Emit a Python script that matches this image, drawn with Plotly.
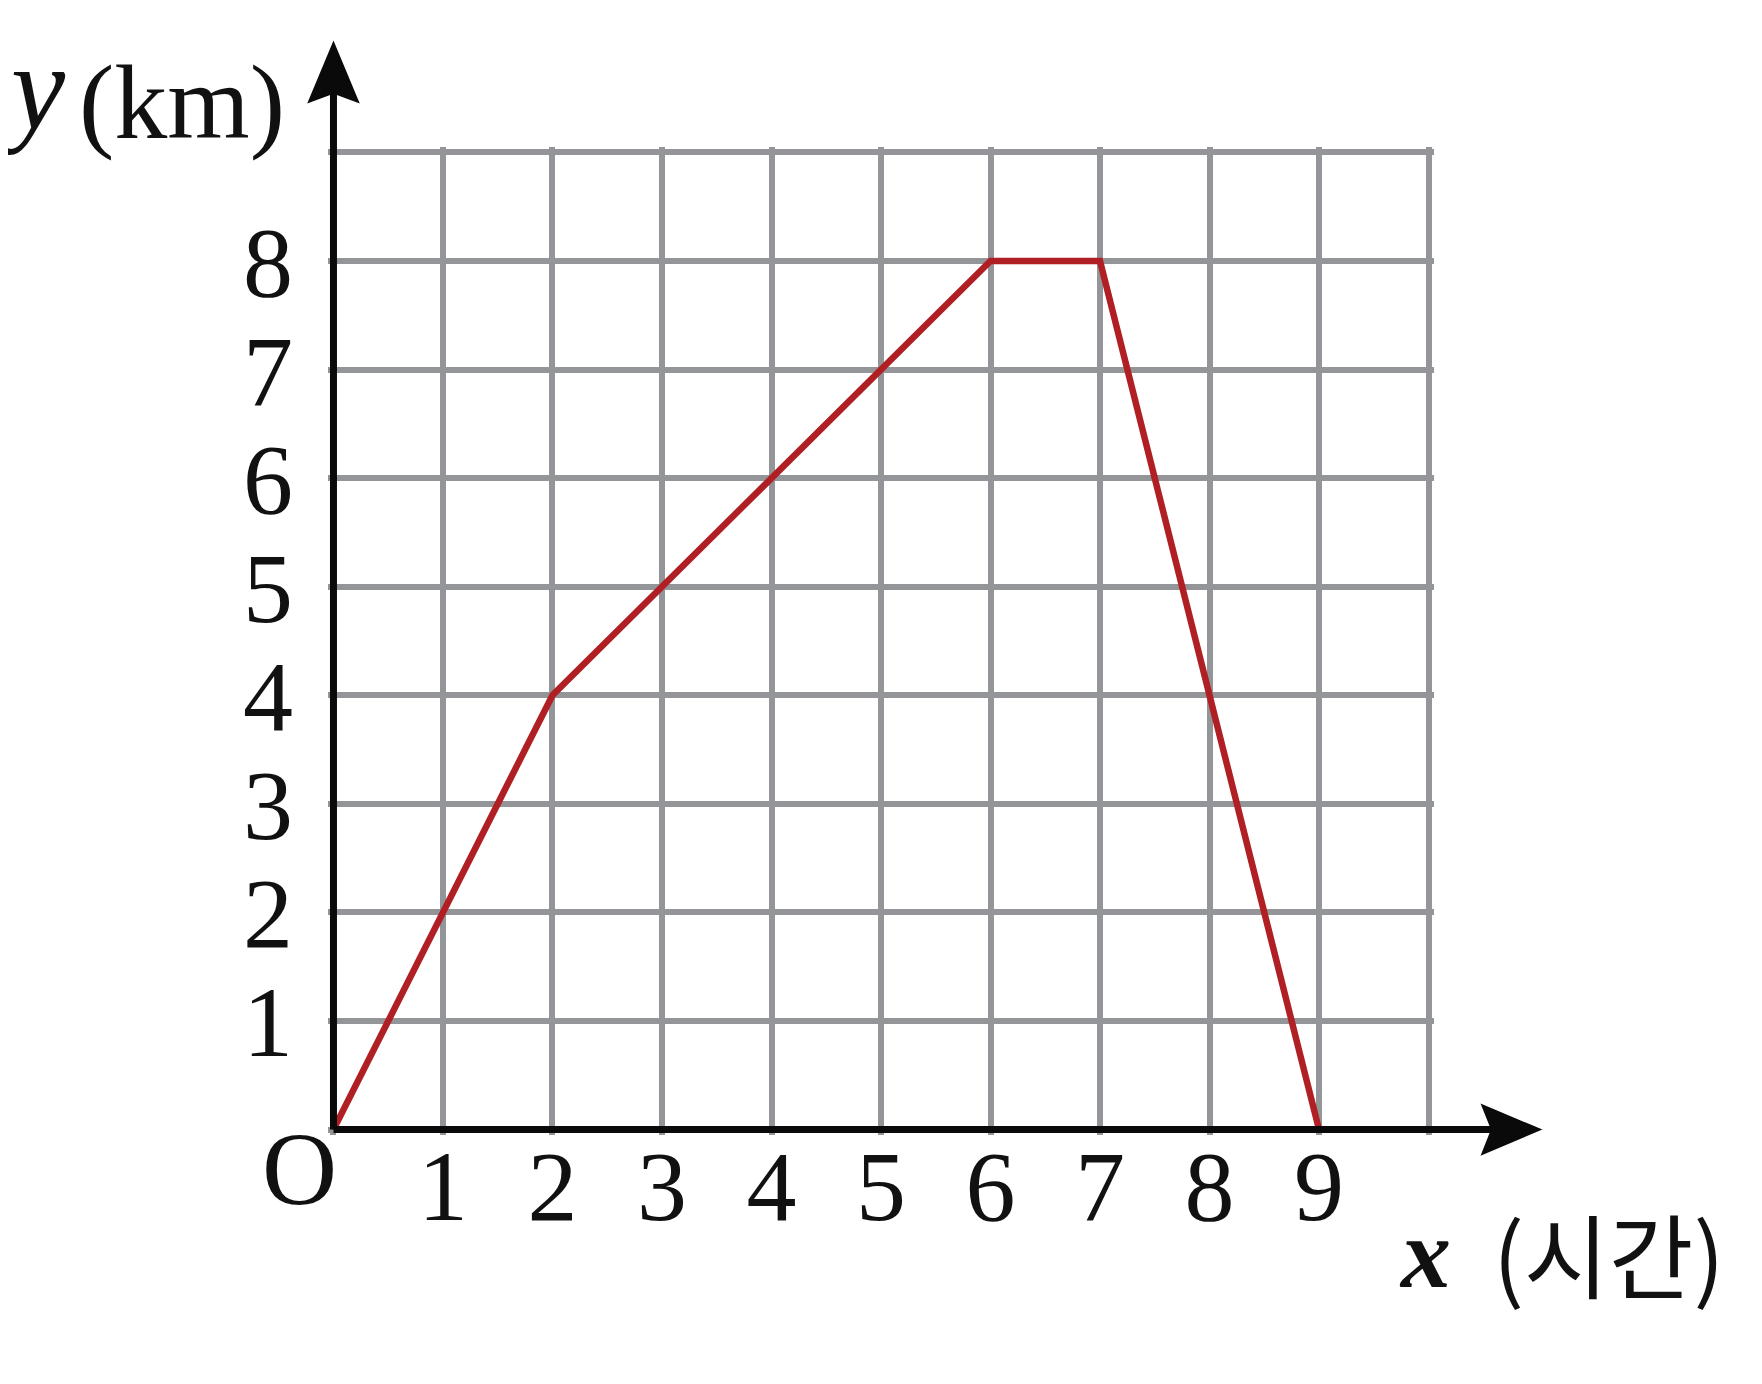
import plotly.graph_objects as go

# data
hours = [0, 2, 6, 7, 9]
distance_km = [0, 4, 8, 8, 0]
x_tick_vals = list(range(0, 11))
x_tick_text = ["", "1", "2", "3", "4", "5", "6", "7", "8", "9", ""]
y_tick_vals = list(range(0, 10))
y_tick_text = ["", "1", "2", "3", "4", "5", "6", "7", "8", ""]

X0, X1 = -0.05, 10.05
Y0, Y1 = -0.05, 9.05
L, R, T, B = 320, 336, 139, 257
W, H = 1762, 1384


def px(x):
    return (x - X0) / (X1 - X0)


def py(y):
    return (y - Y0) / (Y1 - Y0)


fig = go.Figure()
fig.add_trace(go.Scatter(x=hours, y=distance_km, mode="lines",
                         line=dict(color="#B01F24", width=6.5),
                         hoverinfo="skip", showlegend=False, cliponaxis=False))

serif = "Liberation Serif"
shapes = []
# axes lines
shapes.append(dict(type="line", xref="paper", yref="paper", x0=px(0), y0=py(0), x1=px(10.6), y1=py(0),
                   line=dict(color="#0a0a0a", width=7), layer="above"))
shapes.append(dict(type="line", xref="paper", yref="paper", x0=px(0), y0=py(0), x1=px(0), y1=py(9.6),
                   line=dict(color="#0a0a0a", width=7), layer="above"))
# arrowheads (notched)
xt, xb, xn, hw = 11.04, 10.475, 10.57, 0.24
shapes.append(dict(type="path", xref="paper", yref="paper",
                   path=f"M{px(xt)},{py(0)} L{px(xb)},{py(hw)} L{px(xn)},{py(0)} L{px(xb)},{py(-hw)} Z",
                   fillcolor="#0a0a0a", line=dict(width=0), layer="above"))
yt, yb, yn, hwx = 10.03, 9.45, 9.54, 0.24
shapes.append(dict(type="path", xref="paper", yref="paper",
                   path=f"M{px(0)},{py(yt)} L{px(-hwx)},{py(yb)} L{px(0)},{py(yn)} L{px(hwx)},{py(yb)} Z",
                   fillcolor="#0a0a0a", line=dict(width=0), layer="above"))


def ann(x, y, text, family, size):
    return dict(x=px(x), y=py(y), xref="paper", yref="paper", text=text, showarrow=False,
                font=dict(family=family, size=size, color="#111"), xanchor="center", yanchor="middle")


annotations = [
    ann(-0.31, -0.36, "O", serif, 104),
    ann(-2.74, 9.60, "<i>y</i>", serif, 122),
    ann(-1.38, 9.46, "(km)", serif, 106),
    ann(9.97, -1.14, "<b><i>x</i></b>", serif, 100),
    ann(11.64, -1.12, "(시간)", "Noto Sans CJK KR", 92),
]

fig.update_layout(
    width=W, height=H,
    margin=dict(l=L, r=R, t=T, b=B),
    paper_bgcolor="white", plot_bgcolor="white",
    shapes=shapes, annotations=annotations,
    xaxis=dict(range=[X0, X1], tickvals=x_tick_vals, ticktext=x_tick_text,
               showgrid=True, gridcolor="#939598", gridwidth=6, zeroline=False,
               showline=False, ticks="", ticklabelstandoff=-16,
               tickfont=dict(family=serif, size=100, color="#111"), fixedrange=True),
    yaxis=dict(range=[Y0, Y1], tickvals=y_tick_vals, ticktext=y_tick_text,
               showgrid=True, gridcolor="#939598", gridwidth=6, zeroline=False,
               showline=False, ticks="", ticklabelstandoff=34,
               tickfont=dict(family=serif, size=100, color="#111"), fixedrange=True),
)

fig.write_html("out.html")
